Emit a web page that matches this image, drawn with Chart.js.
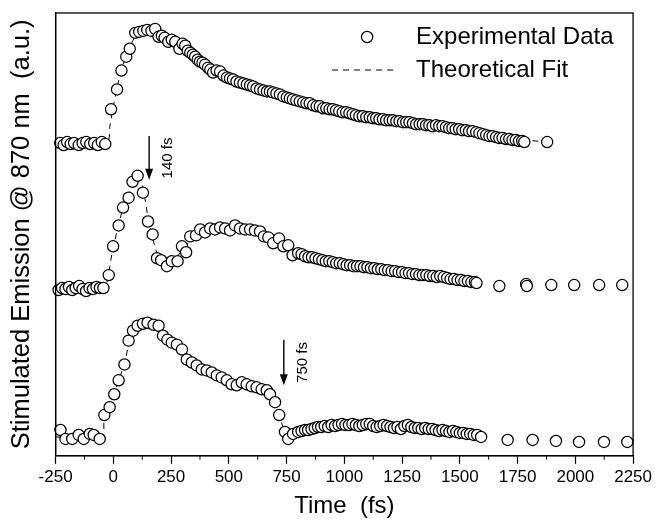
<!DOCTYPE html>
<html>
<head>
<meta charset="utf-8">
<script src="https://cdn.jsdelivr.net/npm/chart.js@4"></script>
<style>
  html, body { margin: 0; padding: 0; background: #fff; }
</style>
</head>
<body>
<canvas id="chart" width="655" height="523"></canvas>
<script>
"use strict";

// ? three transients, stacked with an offset (a.u.)
// top trace
const topTime = [
  -230, -215, -200, -185, -170, -150, -133, -117, -100, -83,
  -67, -50, -35, -10, 16, 35, 56, 71, 95, 112,
  130, 147, 165, 181, 196, 210, 222, 238, 253, 268,
  286, 300, 311, 322, 333, 344, 354, 365, 375, 386,
  397, 410, 420, 432, 447, 462, 477, 492, 505, 518,
  533, 548, 563, 578, 592, 605, 620, 635, 650, 665,
  678, 691, 706, 721, 736, 751, 764, 777, 792, 807,
  822, 836, 850, 865, 880, 894, 908, 922, 936, 950,
  964, 978, 993, 1008, 1022, 1036, 1050, 1065, 1080, 1095,
  1110, 1124, 1138, 1152, 1167, 1181, 1196, 1210, 1225, 1239,
  1254, 1268, 1282, 1297, 1311, 1326, 1340, 1354, 1368, 1382,
  1397, 1411, 1425, 1440, 1454, 1468, 1482, 1497, 1511, 1526,
  1540, 1555, 1571, 1585, 1600, 1614, 1628, 1642, 1657, 1671,
  1685, 1700, 1714, 1728, 1742, 1756, 1770, 1779, 1878,
];
const topSignal = [
  315, 313, 316, 314, 315, 313, 315, 316, 314, 315,
  313, 316, 314, 349, 369, 388, 402, 410, 426, 427,
  428, 429, 428, 430, 422, 423, 421, 417, 419, 417,
  410, 415, 413, 408, 406, 404, 402, 399, 397, 396,
  394, 391, 389, 386, 388, 387, 383, 381, 380, 379,
  377, 376, 375, 374, 373, 372, 370, 369, 368, 367,
  367, 366, 365, 364, 362, 361, 360, 359, 358, 357,
  356, 355, 355, 353, 352, 352, 350, 350, 349, 349,
  348, 347, 346, 346, 345, 344, 343, 342, 342, 341,
  341, 340, 340, 339, 339, 338, 338, 338, 337, 337,
  336, 336, 336, 335, 334, 334, 334, 333, 333, 332,
  333, 332, 332, 331, 330, 330, 329, 329, 328, 328,
  327, 327, 326, 325, 324, 323, 322, 322, 321, 320,
  320, 319, 319, 318, 318, 317, 317, 316, 316,
];

// middle trace
const midTime = [
  -237, -222, -207, -192, -178, -163, -148, -133, -118, -103,
  -88, -73, -58, -43, -20, -1, 23, 42, 66, 83,
  105, 128, 150, 170, 189, 207, 232, 253, 278, 297,
  315, 333, 358, 376, 397, 419, 440, 462, 484, 505,
  527, 548, 570, 592, 613, 635, 652, 671, 692, 717,
  736, 757, 776, 800, 815, 830, 845, 860, 875, 890,
  905, 920, 935, 950, 965, 980, 995, 1010, 1025, 1040,
  1055, 1070, 1085, 1100, 1115, 1130, 1145, 1160, 1175, 1190,
  1205, 1220, 1235, 1250, 1265, 1280, 1295, 1310, 1325, 1340,
  1355, 1370, 1385, 1400, 1415, 1430, 1445, 1460, 1475, 1490,
  1505, 1520, 1535, 1550, 1565, 1572, 1671, 1787, 1790, 1896,
  1995, 2103, 2203,
];
const midSignal = [
  167, 169, 168, 170, 167, 169, 171, 168, 166, 169,
  168, 170, 169, 169, 182, 211, 232, 250, 260, 276,
  282, 265, 236, 223, 199, 197, 191, 196, 196, 211,
  205, 221, 222, 228, 225, 229, 228, 230, 229, 227,
  232, 229, 228, 228, 227, 226, 221, 220, 214, 219,
  211, 212, 202, 204, 203, 201, 200, 200, 199, 198,
  197, 196, 196, 195, 194, 194, 193, 192, 192, 191,
  191, 191, 190, 190, 189, 189, 188, 188, 187, 187,
  186, 186, 185, 185, 184, 184, 183, 183, 182, 182,
  182, 181, 181, 180, 181, 180, 179, 178, 178, 177,
  177, 176, 176, 175, 175, 174, 171, 173, 171, 172,
  172, 172, 172,
];

// bottom trace
const lowTime = [
  -229, -207, -178, -150, -128, -102, -85, -59, -39, -16,
  4, 23, 48, 66, 85, 105, 128, 148, 174, 196,
  215, 234, 253, 275, 297, 318, 340, 361, 383, 404,
  426, 448, 469, 491, 512, 534, 556, 577, 599, 620,
  642, 664, 678, 700, 718, 743, 757, 778, 800, 815,
  830, 843, 858, 872, 886, 900, 915, 930, 945, 960,
  975, 990, 1005, 1020, 1035, 1050, 1065, 1080, 1095, 1110,
  1125, 1140, 1155, 1170, 1185, 1200, 1215, 1230, 1245, 1260,
  1275, 1290, 1305, 1320, 1335, 1350, 1365, 1380, 1395, 1410,
  1425, 1440, 1455, 1470, 1485, 1500, 1515, 1530, 1545, 1560,
  1575, 1592, 1707, 1815, 1916, 2016, 2124, 2225,
];
const lowSignal = [
  26, 17, 17, 21, 17, 22, 21, 17, 41, 49,
  62, 76, 92, 116, 126, 131, 133, 134, 132, 131,
  121, 117, 114, 112, 107, 97, 94, 91, 87, 86,
  84, 81, 79, 76, 72, 71, 74, 72, 70, 69,
  67, 66, 62, 54, 41, 24, 17, 22, 24, 25,
  26, 26, 27, 28, 29, 29, 30, 29, 31, 30,
  31, 32, 31, 31, 32, 31, 30, 31, 32, 32,
  30, 29, 30, 31, 30, 29, 28, 29, 27, 30,
  31, 29, 28, 28, 27, 28, 27, 27, 26, 25,
  26, 25, 24, 25, 24, 23, 23, 22, 22, 21,
  21, 19, 16, 16, 15, 14, 14, 14,
];

// theoretical fits (dashed, mostly hidden under the circles)
const topFitTime = [-250, -30, -15, 0, 20, 40, 60, 80, 100, 130, 160, 190, 230, 280, 350, 450, 550, 700, 900, 1100, 1300, 1500, 1700, 1880];
const topFitSignal = [315, 315, 332, 352, 375, 393, 405, 416, 424, 428, 429, 427, 421, 412, 401, 388, 376, 364, 351, 341, 335, 329, 320, 316];
const midFitTime = [-250, -40, -25, -5, 20, 45, 70, 95, 110, 130, 150, 175, 200, 230, 260, 300, 350, 420, 500, 600, 700, 800, 900, 1100, 1300, 1500, 1570];
const midFitSignal = [169, 169, 178, 205, 230, 252, 266, 278, 281, 268, 240, 215, 198, 193, 196, 208, 220, 228, 230, 228, 218, 206, 198, 190, 183, 177, 175];
const lowFitTime = [-250, -50, -40, -20, 0, 25, 50, 75, 100, 130, 160, 200, 250, 300, 400, 500, 600, 680, 700, 720, 745, 770, 850, 1000, 1100, 1250, 1400, 1590];
const lowFitSignal = [19, 19, 35, 48, 60, 77, 95, 120, 130, 134, 133, 128, 114, 104, 87, 74, 70, 63, 55, 41, 22, 20, 26, 31, 31, 29, 26, 19];

// arrows marking the pump delay
const arrowTime = [155, 738];
const arrowFrom = [322, 117];
const arrowTo = [278, 71];
const arrowLabels = ["140 fs", "750 fs"];

const xTickLabels = ["-250", "0", "250", "500", "750", "1000", "1250", "1500", "1750", "2000", "2250"];
const legendLabels = ["Experimental Data", "Theoretical Fit"];

const FONT = '"Liberation Sans", Arial, Helvetica, sans-serif';
const R = 5.6; // circle radius

const toPoints = (xs, ys) => xs.map((x, i) => ({ x: x, y: ys[i] }));

const dataStyle = {
  type: "scatter",
  showLine: false,
  pointRadius: R,
  pointHoverRadius: R,
  pointBorderWidth: 1.25,
  pointBackgroundColor: "#fff",
  pointBorderColor: "#000",
  order: 0,
  clip: false,
};
const fitStyle = {
  type: "line",
  showLine: true,
  pointRadius: 0,
  borderWidth: 1,
  borderColor: "#000",
  borderDash: [6, 5],
  tension: 0.3,
  fill: false,
  order: 1,
};

//* frame, minor ticks, arrows and legend
const extras = {
  id: "extras",
  afterDraw(chart) {
    const ctx = chart.ctx;
    const a = chart.chartArea;
    const xs = chart.scales.x;
    const ys = chart.scales.y;
    ctx.save();

    ctx.strokeStyle = "#000";
    ctx.lineWidth = 1.3;
    ctx.strokeRect(a.left, a.top, a.right - a.left, a.bottom - a.top);

    // minor ticks between the labelled ones
    ctx.lineWidth = 1;
    for (let v = -125; v < 2250; v += 250) {
      const px = xs.getPixelForValue(v);
      ctx.beginPath();
      ctx.moveTo(px, a.bottom);
      ctx.lineTo(px, a.bottom + 4);
      ctx.stroke();
    }

    // arrows
    ctx.fillStyle = "#000";
    ctx.lineWidth = 1.4;
    arrowTime.forEach((t, i) => {
      const px = xs.getPixelForValue(t);
      const y0 = ys.getPixelForValue(arrowFrom[i]);
      const y1 = ys.getPixelForValue(arrowTo[i]);
      ctx.beginPath();
      ctx.moveTo(px, y0);
      ctx.lineTo(px, y1 - 9);
      ctx.stroke();
      ctx.beginPath();
      ctx.moveTo(px - 4, y1 - 11);
      ctx.lineTo(px + 4, y1 - 11);
      ctx.lineTo(px, y1);
      ctx.closePath();
      ctx.fill();

      ctx.save();
      ctx.translate(px + 19, (y0 + y1) / 2);
      ctx.rotate(-Math.PI / 2);
      ctx.font = "15px " + FONT;
      ctx.textAlign = "center";
      ctx.textBaseline = "middle";
      ctx.fillText(arrowLabels[i], 0, 0);
      ctx.restore();
    });

    // legend
    const lx = a.right - 266;
    const tx = a.right - 217;
    const r1 = a.top + 24;
    const r2 = a.top + 57;
    ctx.fillStyle = "#fff";
    ctx.lineWidth = 1.25;
    ctx.beginPath();
    ctx.arc(lx, r1, R, 0, Math.PI * 2);
    ctx.fill();
    ctx.stroke();
    ctx.lineWidth = 1;
    ctx.setLineDash([6, 5]);
    ctx.beginPath();
    ctx.moveTo(lx - 35, r2);
    ctx.lineTo(lx + 30, r2);
    ctx.stroke();
    ctx.setLineDash([]);
    ctx.fillStyle = "#000";
    ctx.font = "24px " + FONT;
    ctx.textAlign = "left";
    ctx.textBaseline = "middle";
    ctx.fillText(legendLabels[0], tx, r1);
    ctx.fillText(legendLabels[1], tx, r2);

    ctx.restore();
  },
};

const config = {
  data: {
    datasets: [
      { ...dataStyle, label: "top", data: toPoints(topTime, topSignal) },
      { ...dataStyle, label: "middle", data: toPoints(midTime, midSignal) },
      { ...dataStyle, label: "bottom", data: toPoints(lowTime, lowSignal) },
      { ...fitStyle, label: "top fit", data: toPoints(topFitTime, topFitSignal) },
      { ...fitStyle, label: "middle fit", data: toPoints(midFitTime, midFitSignal) },
      { ...fitStyle, label: "bottom fit", data: toPoints(lowFitTime, lowFitSignal) },
    ],
  },
  options: {
    responsive: false,
    animation: false,
    events: [],
    layout: { padding: { left: 0, top: 13, right: 21, bottom: 0 } },
    plugins: {
      legend: { display: false },
      tooltip: { enabled: false },
    },
    scales: {
      x: {
        type: "linear",
        min: -250,
        max: 2250,
        afterBuildTicks(scale) {
          scale.ticks = xTickLabels.map((l) => ({ value: Number(l) }));
        },
        ticks: {
          color: "#000",
          font: { family: FONT, size: 17 },
          padding: 3,
          maxRotation: 0,
          callback: (v) => String(v),
        },
        grid: {
          drawOnChartArea: false,
          color: "#000",
          tickLength: 8,
          tickWidth: 1.2,
        },
        border: { color: "#000", width: 1.3 },
        title: {
          display: true,
          text: "Time  (fs)",
          color: "#000",
          font: { family: FONT, size: 24 },
          padding: { top: 2, bottom: 2 },
        },
      },
      y: {
        type: "linear",
        min: 0,
        max: 446,
        ticks: { display: false },
        grid: { display: false, drawTicks: false },
        border: { color: "#000", width: 1.3 },
        title: {
          display: true,
          text: "Stimulated Emission @ 870 nm  (a.u.)",
          color: "#000",
          font: { family: FONT, size: 25.5 },
          padding: { top: 7, bottom: 18 },
        },
      },
    },
  },
  plugins: [extras],
};

const myChart = new Chart(document.getElementById("chart"), config);
</script>
</body>
</html>
